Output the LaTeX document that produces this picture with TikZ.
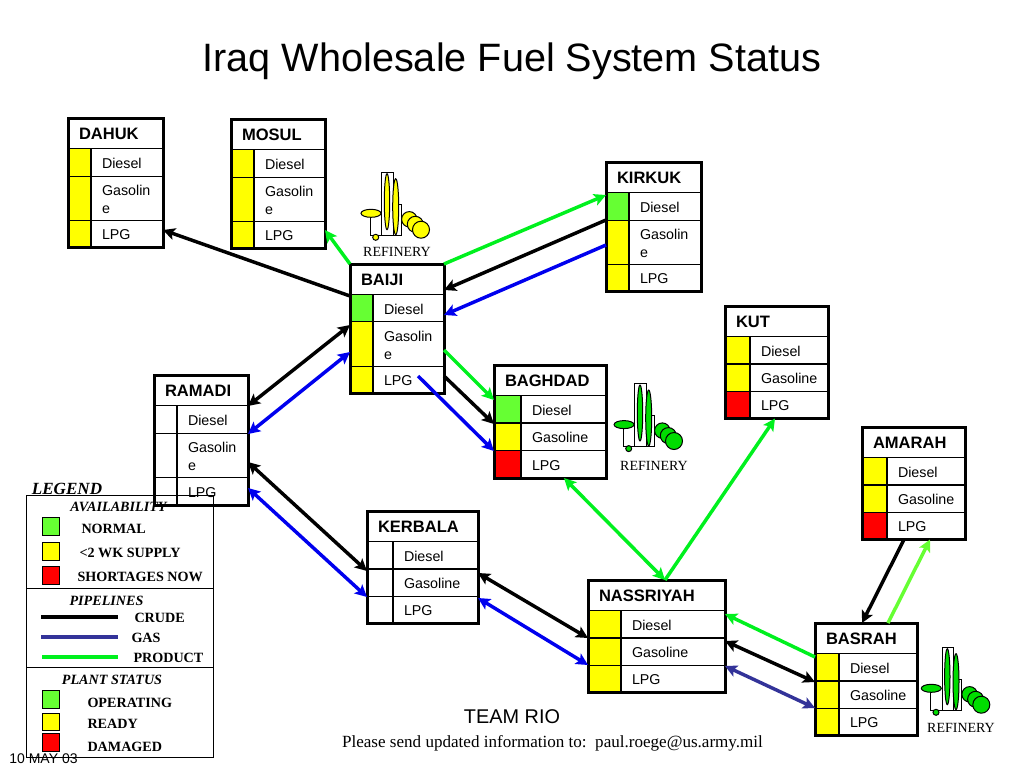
\documentclass[tikz,border=0pt]{standalone}
\usepackage{fontspec}
\setmainfont{Liberation Sans}
\newfontfamily\timesfont{Liberation Serif}
\usetikzlibrary{arrows.meta,calc,fit}

\definecolor{okgreen}{RGB}{102,255,51}
\definecolor{pipegreen}{RGB}{0,240,30}
\definecolor{gasblue}{RGB}{0,0,238}
\definecolor{gasnavy}{RGB}{51,51,153}
\definecolor{iconyellow}{RGB}{255,255,0}
\definecolor{icongreen}{RGB}{0,221,0}

\tikzset{every picture/.style={line width=0.75pt},
	tablerow/.style={draw,line width=1pt,inner sep=0,outer sep=0},
	tableframe/.style={draw,line width=2.25pt,inner sep=0,outer sep=0},
	tabletitle/.style={inner sep=0,anchor=west,font=\fontsize{12.4}{14}\selectfont\bfseries},
	rowtext/.style={inner sep=0,anchor=west,align=left,font=\fontsize{10.7}{13.5}\selectfont},
	legendkey/.style={draw,line width=0.75pt,inner sep=0,outer sep=0,minimum size=13.2pt},
	legendhead/.style={inner sep=0,font=\timesfont\fontsize{10.6}{12}\selectfont\bfseries\itshape},
	legendtext/.style={inner sep=0,anchor=west,font=\timesfont\fontsize{10.6}{12}\selectfont\bfseries},
	reflabel/.style={inner sep=0,font=\timesfont\fontsize{10.5}{12}\selectfont},
	oneway/.style={-{Stealth[length=9pt,width=9pt,inset=2pt]}},
	twoway/.style={{Stealth[length=9pt,width=9pt,inset=2pt]}-{Stealth[length=9pt,width=9pt,inset=2pt]}},
	crudeline/.style={line width=2.6pt,black},
	gasline/.style={line width=2.6pt,gasblue},
	navyline/.style={line width=2.6pt,gasnavy},
	prodline/.style={line width=2.6pt,pipegreen},
	lightline/.style={line width=2.6pt,okgreen}}

% id, title, left, top, width, swatch width, rows (colour/text/height)
\newcommand{\fueltable}[7]{
	\foreach \col/\txt/\rowh [count=\n, remember=\rowbot as \rowtop (initially 30.5), evaluate=\rowh as \rowbot using \rowtop+\rowh] in {#7} {
		\node [tablerow,anchor=north west,minimum width=#5*0.75pt,minimum height=\rowh*0.75pt] (#1-\n) at (#3,#4+\rowtop) {};
		\node [tablerow,fill=\col,anchor=north west,minimum width=#6*0.75pt,minimum height=\rowh*0.75pt] (#1-s\n) at (#3,#4+\rowtop) {};
		\node [rowtext] (#1-l\n) at (#3+#6+10.5,#4+\rowtop+\rowh/2+1) {\txt};
	}
	\node [inner sep=0,outer sep=0,anchor=north west,minimum width=#5*0.75pt,minimum height=30.5*0.75pt] (#1-t) at (#3,#4) {};
	\node [tabletitle] (#1-name) at (#3+10.5,#4+16) {#2};
	\node [tableframe,fit=(#1-t)(#1-1)(#1-2)(#1-3)] (#1) {};
}

% left of the tower, top of the tower, colour
\newcommand{\refineryicon}[3]{
	\begin{scope}[shift={(#1,#2)}]
		\draw [fill=white] (0,0) rectangle (11.3,63) ;
		\draw [fill=white] (11.3,32) rectangle (19.3,63) ;
		\draw (-11.7,45) -- (-11.7,63) -- (0,63) ;
		\draw [fill=#3] (-10.7,41.3) circle [x radius=10, y radius=4] ;
		\draw [fill=#3] (5.3,29.7) circle [x radius=2.7, y radius=28] ;
		\draw [fill=#3] (14,34.7) circle [x radius=3, y radius=28] ;
		\draw [fill=#3] (-6,65.3) circle [radius=3] ;
		\draw [fill=#3] (27.6,47.3) circle [radius=7.7] ;
		\draw [fill=#3] (33.6,52.3) circle [radius=8] ;
		\draw [fill=#3] (39.3,57.7) circle [radius=8.5] ;
	\end{scope}
}

\begin{document}
\begin{tikzpicture}[x=0.75pt,y=0.75pt,yscale=-1,xscale=1]
	\useasboundingbox (0,0) rectangle (1024,768);

	% Text Node
	\node [inner sep=0,font=\fontsize{29.7}{34}\selectfont] (heading) at (512,61) {Iraq Wholesale Fuel System Status};

	%Tables
	\fueltable{dahuk}{DAHUK}{68}{118}{95}{23}{iconyellow/Diesel/28,iconyellow/{Gasolin\\e}/44,iconyellow/LPG/27}
	\fueltable{mosul}{MOSUL}{231}{119}{94}{23}{iconyellow/Diesel/28,iconyellow/{Gasolin\\e}/44,iconyellow/LPG/27}
	\fueltable{kirkuk}{KIRKUK}{606}{162}{95}{23}{okgreen/Diesel/28,iconyellow/{Gasolin\\e}/44,iconyellow/LPG/27}
	\fueltable{baiji}{BAIJI}{350}{264}{94}{23}{okgreen/Diesel/27,iconyellow/{Gasolin\\e}/45,iconyellow/LPG/27}
	\fueltable{ramadi}{RAMADI}{154}{375}{94}{23}{white/Diesel/28,white/{Gasolin\\e}/44,white/LPG/28}
	\fueltable{baghdad}{BAGHDAD}{494}{365}{112}{27}{okgreen/Diesel/27.5,iconyellow/Gasoline/27.5,red/LPG/27.5}
	\fueltable{kut}{KUT}{725}{306}{103}{25}{iconyellow/Diesel/27.5,iconyellow/Gasoline/27.5,red/LPG/27}
	\fueltable{amarah}{AMARAH}{862}{427}{103}{25}{iconyellow/Diesel/27.5,iconyellow/Gasoline/27.5,red/LPG/27}
	\fueltable{kerbala}{KERBALA}{367}{511}{111}{26}{white/Diesel/27.5,white/Gasoline/27.5,white/LPG/27}
	\fueltable{nassriyah}{NASSRIYAH}{588}{580}{137}{33}{iconyellow/Diesel/27.5,iconyellow/Gasoline/27.5,iconyellow/LPG/27}
	\fueltable{basrah}{BASRAH}{815}{623}{102}{24}{iconyellow/Diesel/27.5,iconyellow/Gasoline/27.5,iconyellow/LPG/27}

	%Refineries
	\refineryicon{381.7}{172}{iconyellow}
	\refineryicon{634.7}{383.3}{icongreen}
	\refineryicon{942}{647}{icongreen}
	% Text Node
	\node [reflabel] (refbaiji) at (397,252) {REFINERY};
	\node [reflabel] (refbaghdad) at (654,466) {REFINERY};
	\node [reflabel] (refbasrah) at (961,728) {REFINERY};

	%Straight Lines
	\draw [crudeline,oneway] ($(baiji.north west)+(0,32)$) -- ($(dahuk.north east)+(0,112)$) ;
	\draw [prodline,oneway] (baiji.north west) -- ($(mosul.north east)+(0,111)$) ;
	\draw [prodline,oneway] (baiji.north east) -- ($(kirkuk.north west)+(0,33)$) ;
	\draw [crudeline,oneway] ($(kirkuk.north west)+(0,58)$) -- ($(baiji.north east)+(0,26)$) ;
	\draw [gasline,oneway] ($(kirkuk.north west)+(0,83)$) -- ($(baiji.north east)+(0,51)$) ;
	\draw [crudeline,twoway] ($(baiji.north west)+(0,61)$) -- ($(ramadi.north east)+(0,31)$) ;
	\draw [gasline,twoway] ($(baiji.north west)+(0,88)$) -- ($(ramadi.north east)+(0,59)$) ;
	\draw [prodline,oneway] ($(baiji.north east)+(0,86)$) -- ($(baghdad.north west)+(0,35)$) ;
	\draw [crudeline,oneway] ($(baiji.north east)+(0,112)$) -- ($(baghdad.north west)+(0,59)$) ;
	\draw [gasline,oneway] ($(baiji.north west)+(68,112)$) -- ($(baghdad.north west)+(0,86)$) ;
	\draw [crudeline,twoway] ($(ramadi.north east)+(0,87)$) -- ($(kerbala.north west)+(0,60)$) ;
	\draw [gasline,twoway] ($(ramadi.north east)+(0,113)$) -- ($(kerbala.north west)+(0,86)$) ;
	\draw [crudeline,twoway] ($(kerbala.north east)+(0,62)$) -- ($(nassriyah.north west)+(0,58)$) ;
	\draw [gasline,twoway] ($(kerbala.north east)+(0,87)$) -- ($(nassriyah.north west)+(0,85)$) ;
	\draw [prodline,twoway] ($(baghdad.south west)+(70,0)$) -- ($(nassriyah.north west)+(77,0)$) ;
	\draw [prodline,oneway] ($(nassriyah.north west)+(77,0)$) -- ($(kut.south west)+(50,0)$) ;
	\draw [crudeline,oneway] ($(amarah.south west)+(42,0)$) -- ($(basrah.north west)+(47,0)$) ;
	\draw [lightline,oneway] ($(basrah.north west)+(73,0)$) -- ($(amarah.south west)+(68,0)$) ;
	\draw [prodline,oneway] ($(basrah.north west)+(0,34)$) -- ($(nassriyah.north east)+(0,34)$) ;
	\draw [crudeline,twoway] ($(basrah.north west)+(0,59)$) -- ($(nassriyah.north east)+(0,61)$) ;
	\draw [navyline,twoway] ($(basrah.north west)+(0,85)$) -- ($(nassriyah.north east)+(0,86)$) ;

	%Legend
	\node [draw,line width=0.75pt,inner sep=0,outer sep=0,anchor=north west,minimum width=140.25pt,minimum height=196.5pt] (legendbox) at (26,495) {};
	\draw ($(legendbox.north west)+(0,93)$) -- ($(legendbox.north east)+(0,93)$) ;
	\draw ($(legendbox.north west)+(0,172)$) -- ($(legendbox.north east)+(0,172)$) ;
	% Text Node
	\node [inner sep=0,font=\timesfont\fontsize{12.8}{14}\selectfont\bfseries\itshape] (legendname) at (67,488.5) {LEGEND};
	\node [legendhead] (availhead) at (118.5,507) {AVAILABILITY};
	\node [legendkey,fill=okgreen] (keynormal) at (51,526.5) {};
	\node [legendtext] (txtnormal) at (81,529) {NORMAL};
	\node [legendkey,fill=iconyellow] (keysupply) at (51,551.5) {};
	\node [legendtext] (txtsupply) at (79,553) {<2 WK SUPPLY};
	\node [legendkey,fill=red] (keyshort) at (51,575.5) {};
	\node [legendtext] (txtshort) at (77,577) {SHORTAGES NOW};
	\node [legendhead] (pipehead) at (106.5,601) {PIPELINES};
	\coordinate (crudefrom) at (41,617);
	\coordinate (crudeto) at (118,617);
	\coordinate (gasfrom) at (41,637);
	\coordinate (gasto) at (118,637);
	\coordinate (prodfrom) at (42,657);
	\coordinate (prodto) at (118,657);
	\draw [crudeline] (crudefrom) -- (crudeto) ;
	\draw [navyline] (gasfrom) -- (gasto) ;
	\draw [prodline] (prodfrom) -- (prodto) ;
	\node [legendtext] (txtcrude) at (134,618) {CRUDE};
	\node [legendtext] (txtgas) at (131,638) {GAS};
	\node [legendtext] (txtprod) at (133,658) {PRODUCT};
	\node [legendhead] (planthead) at (112,680) {PLANT STATUS};
	\node [legendkey,fill=okgreen] (keyoper) at (51,699.5) {};
	\node [legendtext] (txtoper) at (87,703) {OPERATING};
	\node [legendkey,fill=iconyellow] (keyready) at (51,722) {};
	\node [legendtext] (txtready) at (87,724) {READY};
	\node [legendkey,fill=red] (keydamaged) at (51,742.5) {};
	\node [legendtext] (txtdamaged) at (87,747) {DAMAGED};

	% Text Node
	\node [inner sep=0,font=\fontsize{10.5}{12}\selectfont] (datestamp) at (43.5,759) {10 MAY 03};
	\node [inner sep=0,font=\fontsize{14.9}{17}\selectfont] (teamrio) at (512,717) {TEAM RIO};
	\node [inner sep=0,font=\timesfont\fontsize{12.8}{15}\selectfont] (sendnote) at (552.5,743.5) {Please send updated information to:\ \ paul.roege@us.army.mil};

\end{tikzpicture}
\end{document}
